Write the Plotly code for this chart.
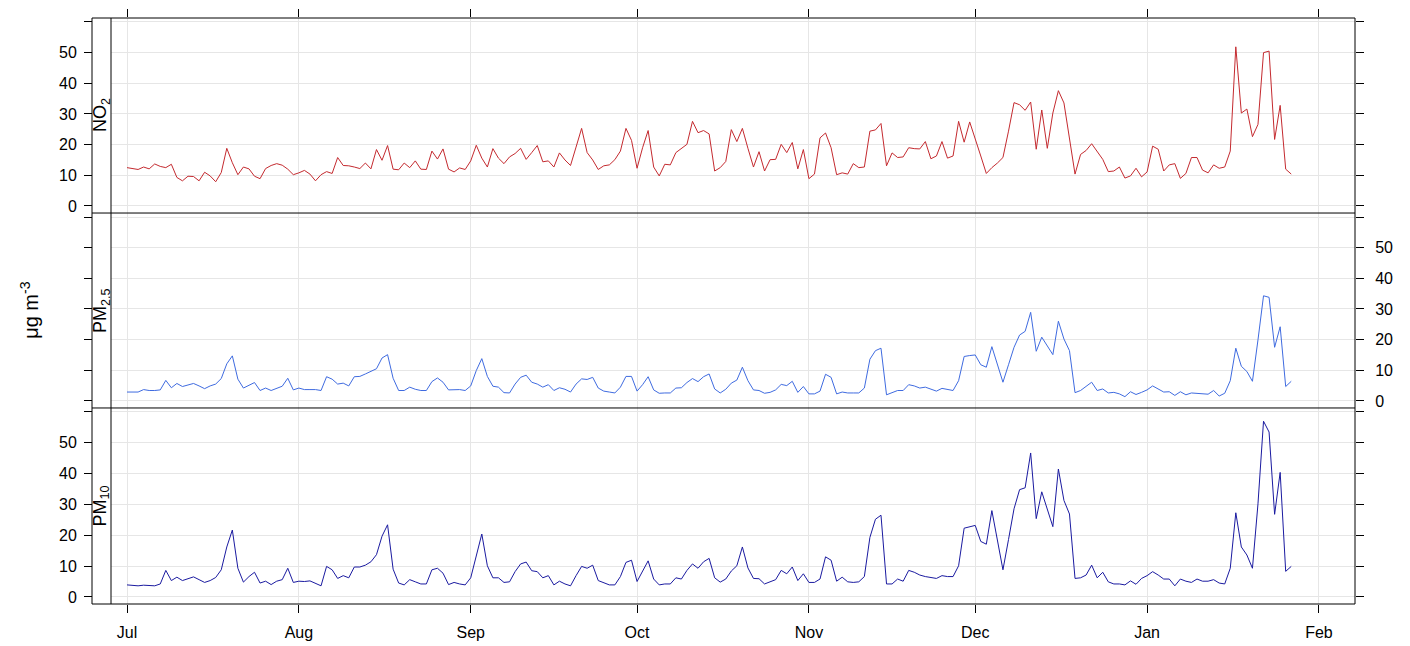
import pandas as pd
import plotly.graph_objects as go

# daily means, 1 Jul - 27 Jan
no2 = [12.5, 12.3, 11.9, 12.7, 12.1, 13.7, 12.9, 12.5, 13.6, 9.3, 8.2, 9.7, 9.6, 8.2, 11.0, 9.8,
       7.9, 10.9, 18.8, 14.1, 10.2, 12.7, 12.1, 9.7, 8.9, 12.2, 13.2, 13.8, 13.3, 12.0, 10.2,
       10.8, 11.6, 10.4, 8.2, 10.2, 11.2, 10.6, 15.8, 13.2, 13.1, 12.7, 12.2, 14.0, 12.1, 18.4,
       14.9, 19.7, 12.0, 11.8, 14.0, 12.5, 14.7, 12.0, 11.9, 17.9, 15.3, 18.6, 12.0, 11.1, 12.4,
       11.9, 14.7, 19.8, 15.6, 12.7, 18.7, 15.6, 13.8, 16.0, 17.1, 18.8, 15.2, 17.4, 19.7, 14.4,
       14.7, 12.7, 17.3, 15.0, 13.2, 19.2, 25.3, 17.4, 15.0, 11.9, 13.1, 13.4, 15.1, 17.9, 25.3,
       21.4, 12.3, 19.0, 24.6, 12.7, 9.8, 13.6, 13.4, 17.4, 18.8, 20.1, 27.6, 23.9, 24.6, 23.5,
       11.4, 12.5, 14.5, 24.9, 21.0, 25.3, 18.8, 12.7, 17.7, 11.4, 15.1, 15.2, 20.1, 17.4, 20.7,
       12.1, 18.4, 8.9, 10.4, 22.2, 23.8, 19.0, 10.2, 10.8, 10.4, 13.8, 12.5, 12.7, 24.4, 24.8,
       26.9, 13.1, 17.3, 15.8, 16.0, 19.0, 18.7, 18.6, 21.0, 15.4, 16.3, 21.0, 15.6, 16.3, 27.6,
       20.8, 27.4, 22.2, 16.3, 10.6, 12.5, 14.0, 15.8, 24.4, 33.7, 33.0, 31.2, 33.9, 18.5, 31.3,
       18.8, 30.3, 37.6, 33.6, 22.2, 10.4, 16.8, 18.1, 20.3, 17.9, 15.2, 11.2, 11.4, 12.7, 9.1,
       9.8, 12.3, 9.5, 11.1, 19.5, 18.5, 11.4, 13.4, 13.8, 9.0, 10.6, 15.8, 15.8, 11.7, 10.8,
       13.4, 12.3, 12.7, 17.9, 51.9, 30.3, 31.6, 22.6, 26.6, 50.0, 50.5, 21.7, 32.8, 12.0, 10.4]

pm25 = [2.9, 2.9, 2.9, 3.7, 3.4, 3.4, 3.6, 6.7, 4.3, 5.7, 4.7, 5.2, 5.7, 4.9, 4.0, 4.9, 5.5,
        7.3, 12.1, 14.7, 7.1, 4.2, 5.0, 6.0, 3.4, 4.2, 3.4, 4.2, 4.8, 7.4, 3.6, 4.2, 3.7, 3.7,
        3.7, 3.4, 7.9, 7.1, 5.5, 5.8, 4.9, 7.9, 8.0, 8.8, 9.7, 10.5, 14.0, 15.1, 7.4, 3.4, 3.4,
        4.5, 3.8, 3.4, 3.4, 6.3, 7.5, 6.1, 3.6, 3.7, 3.7, 3.4, 4.9, 9.9, 13.8, 8.0, 4.8, 4.5,
        2.7, 2.6, 5.5, 7.7, 8.4, 6.1, 5.5, 4.5, 5.3, 3.4, 4.3, 3.8, 2.9, 5.5, 7.2, 7.0, 7.7,
        4.2, 3.2, 2.9, 2.6, 4.5, 8.0, 8.0, 3.2, 5.3, 7.9, 3.6, 2.5, 2.6, 2.6, 4.2, 4.3, 6.0,
        7.3, 6.3, 7.9, 8.8, 3.9, 2.6, 3.8, 5.8, 6.8, 11.0, 6.6, 3.6, 3.4, 2.5, 2.8, 3.6, 5.4,
        5.0, 6.4, 2.8, 4.7, 2.3, 2.3, 3.2, 8.7, 7.7, 2.3, 2.9, 2.6, 2.6, 2.6, 4.2, 13.6, 16.4,
        17.2, 2.0, 2.6, 3.4, 3.4, 5.3, 4.9, 4.2, 4.5, 3.9, 3.2, 4.1, 3.8, 3.4, 6.6, 14.5, 14.8,
        15.0, 11.8, 11.0, 17.7, 12.1, 6.1, 11.8, 17.5, 21.5, 22.7, 28.9, 16.2, 20.8, 18.0, 15.1,
        26.0, 20.2, 16.4, 2.7, 3.4, 4.7, 6.1, 3.4, 3.9, 2.6, 2.8, 2.3, 1.4, 3.0, 2.1, 2.8, 3.6,
        4.9, 3.8, 2.9, 3.0, 1.8, 3.0, 2.0, 2.6, 2.5, 2.5, 2.2, 3.4, 1.6, 2.5, 6.6, 17.2, 11.3,
        9.6, 6.4, 19.9, 34.3, 33.8, 17.5, 24.2, 4.7, 6.4]

pm10 = [3.9, 3.8, 3.6, 3.8, 3.8, 3.6, 4.2, 8.6, 5.3, 6.4, 5.3, 5.9, 6.5, 5.6, 4.7, 5.3, 6.3,
        8.8, 16.2, 21.7, 9.3, 4.8, 6.6, 8.0, 4.5, 5.1, 4.0, 5.1, 5.6, 9.3, 4.7, 5.1, 5.0, 5.2,
        4.5, 3.6, 9.9, 8.8, 6.0, 6.9, 6.2, 9.7, 9.7, 10.3, 11.4, 13.7, 19.7, 23.4, 9.0, 4.5,
        3.9, 5.6, 4.9, 4.2, 4.2, 8.8, 9.3, 7.7, 4.0, 4.7, 4.2, 3.9, 6.2, 13.2, 20.4, 10.1, 6.2,
        6.2, 4.7, 4.9, 8.2, 10.7, 11.3, 8.5, 8.2, 6.2, 6.9, 3.9, 5.1, 4.2, 3.6, 6.9, 9.9, 9.3,
        10.3, 5.3, 4.5, 3.9, 3.9, 6.6, 11.2, 11.9, 5.0, 8.2, 11.7, 5.8, 3.9, 4.2, 4.2, 6.2, 5.8,
        8.6, 10.7, 9.3, 11.4, 12.5, 6.2, 4.8, 5.8, 8.4, 10.1, 16.2, 9.4, 6.0, 5.9, 4.2, 4.9,
        5.6, 8.6, 7.5, 9.7, 5.3, 7.5, 4.7, 4.7, 5.8, 13.0, 11.9, 5.1, 6.4, 4.9, 4.7, 4.9, 6.6,
        19.3, 25.2, 26.5, 4.2, 4.2, 5.8, 5.1, 8.6, 8.0, 7.1, 6.6, 6.4, 6.0, 6.9, 6.6, 6.6, 10.1,
        22.3, 22.8, 23.2, 18.0, 17.1, 28.0, 18.4, 8.8, 18.6, 28.6, 34.8, 35.4, 46.7, 25.4, 34.1,
        28.4, 22.8, 41.5, 31.3, 26.9, 6.0, 6.2, 7.1, 10.3, 6.2, 8.0, 4.9, 4.2, 4.2, 3.9, 5.2,
        4.1, 6.0, 6.9, 8.2, 7.1, 5.8, 5.8, 3.6, 5.8, 5.1, 4.7, 5.8, 5.1, 5.1, 5.6, 4.5, 4.2,
        9.3, 27.3, 16.2, 13.6, 9.3, 30.2, 57.0, 53.5, 26.8, 40.4, 8.3, 9.9]

dates = pd.date_range("2022-07-01", periods=len(no2), freq="D")

month_ticks = pd.date_range("2022-07-01", "2023-02-01", freq="MS")
month_labels = ["Jul", "Aug", "Sep", "Oct", "Nov", "Dec", "Jan", "Feb"]
y_ticks = [0, 10, 20, 30, 40, 50, 60]
y_labels = ["0", "10", "20", "30", "40", "50", " "]

panels = ["NO<sub>2</sub>", "PM<sub>2.5</sub>", "PM<sub>10</sub>"]
colours = ["#C42A2F", "#3F6BE0", "#1A1AA0"]

FONT = "Liberation Sans, Arial, sans-serif"
GRID = "#E6E6E6"
strip_w = 19 / 1263
# bottom, middle, top
doms = [[0, 0.3345], [0.3345, 0.6672], [0.6672, 1]]
yr = [-2.3, 61.3]
xr = ["2022-06-28 02:45", "2023-02-07 12:00"]

fig = go.Figure()
series = [pm10, pm25, no2]  # bottom -> top
for i, vals in enumerate(series):
    fig.add_trace(go.Scatter(x=dates, y=vals, mode="lines",
                             line=dict(color=colours[2 - i], width=1),
                             xaxis="x" if i == 0 else f"x{i + 1}",
                             yaxis="y" if i == 0 else f"y{i + 1}",
                             showlegend=False))
    # empty trace so the right-hand tick axis gets drawn
    fig.add_trace(go.Scatter(x=[], y=[], xaxis="x" if i == 0 else f"x{i + 1}",
                             yaxis=f"y{i + 4}", showlegend=False))

tick_font = dict(family=FONT, size=16, color="black")
# page body has an 8px margin, so the figure is shifted by 8px
lay = dict(width=1394, height=638, margin=dict(l=84, r=47, t=10, b=42, autoexpand=False),
           paper_bgcolor="white", plot_bgcolor="white", font=dict(family=FONT, color="black"))

for i in range(3):
    xa = dict(domain=[strip_w, 1], range=xr, anchor="y" if i == 0 else f"y{i + 1}",
              tickvals=month_ticks, ticktext=month_labels, showgrid=True, gridcolor=GRID,
              gridwidth=1, zeroline=False, showline=False, tickfont=tick_font,
              ticks="", showticklabels=False, automargin=False)
    if i == 0:
        xa.update(ticks="outside", ticklen=8, tickcolor="black", showticklabels=True,
                  ticklabelstandoff=6)
    else:
        xa["matches"] = "x"
    if i == 2:
        xa.update(side="top", ticks="outside", ticklen=8, tickcolor="black")
    lay["xaxis" if i == 0 else f"xaxis{i + 1}"] = xa

    ya = dict(domain=doms[i], range=yr, anchor="free", position=0, side="left",
              tickvals=y_ticks, ticktext=y_labels, ticks="outside", ticklen=8,
              tickcolor="black", showgrid=True, gridcolor=GRID, zeroline=False,
              showline=False, tickfont=tick_font, showticklabels=(i != 1),
              ticklabelstandoff=4, automargin=False)
    lay["yaxis" if i == 0 else f"yaxis{i + 1}"] = ya
    lay[f"yaxis{i + 4}"] = dict(overlaying="y" if i == 0 else f"y{i + 1}", side="right",
                                anchor="x" if i == 0 else f"x{i + 1}", range=yr,
                                tickvals=y_ticks, ticktext=y_labels, ticks="outside",
                                ticklen=8, tickcolor="black", showgrid=False,
                                zeroline=False, showline=False, tickfont=tick_font,
                                showticklabels=(i == 1), ticklabelstandoff=8,
                                automargin=False)

fig.update_layout(**lay)

# frame, strip column and panel separators
line = dict(color="black", width=1)
fig.add_shape(type="rect", xref="paper", yref="paper", x0=0, x1=1, y0=0, y1=1, line=line)
fig.add_shape(type="line", xref="paper", yref="paper", x0=strip_w, x1=strip_w, y0=0, y1=1, line=line)
for d in doms[1:]:
    fig.add_shape(type="line", xref="paper", yref="paper", x0=0, x1=1, y0=d[0], y1=d[0], line=line)

# strip labels (bottom -> top)
for i, d in enumerate(doms):
    fig.add_annotation(text=panels[2 - i], xref="paper", yref="paper", x=strip_w / 2,
                       y=(d[0] + d[1]) / 2, xanchor="center", yanchor="middle",
                       textangle=-90, showarrow=False,
                       font=dict(family=FONT, size=18, color="black"))

fig.add_annotation(text="μg m<sup>-3</sup>", xref="paper", yref="paper", x=-0.050, y=0.5017,
                   xanchor="center", yanchor="middle", textangle=-90, showarrow=False,
                   font=dict(family=FONT, size=20, color="black"))

fig.write_html("out.html")
